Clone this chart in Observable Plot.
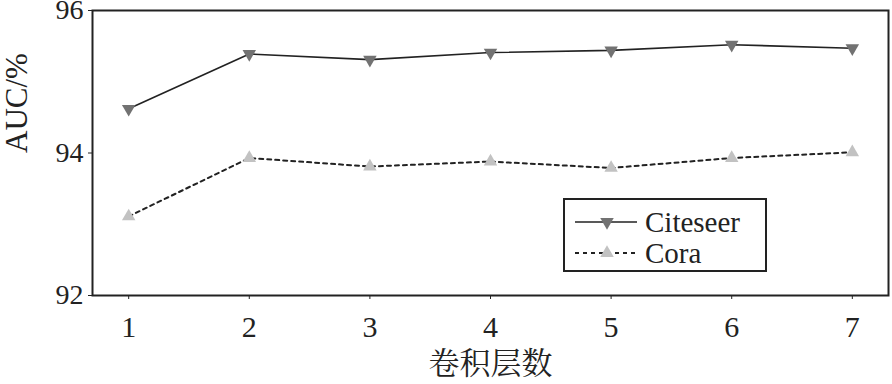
<!DOCTYPE html>
<html><head><meta charset="utf-8">
<script src="https://cdn.jsdelivr.net/npm/d3@7"></script>
<script src="https://cdn.jsdelivr.net/npm/@observablehq/plot@0.6"></script>
<style>
body{margin:0;background:#fff;}
#wrap{position:relative;width:892px;height:384px;}
#legend{position:absolute;left:563px;top:198px;width:204px;height:74px;border:2px solid #222;background:#fff;box-sizing:border-box;}
</style></head><body><div id="wrap"><div id="legend"></div></div>
<script>
const layers = [1, 2, 3, 4, 5, 6, 7];
const citeseer = [94.62, 95.39, 95.31, 95.41, 95.44, 95.52, 95.47];
const cora = [93.11, 93.93, 93.81, 93.88, 93.79, 93.93, 94.01];
const yTicks = [92, 94, 96];
const seriesNames = ["Citeseer", "Cora"];
const xLabel = "卷积层数";
const yLabel = "AUC/%";

const latinFont = "Liberation Serif";
const cjkFont = "Noto Serif CJK SC";
const citeData = layers.map((l, i) => ({layer: l, auc: citeseer[i]}));
const coraData = layers.map((l, i) => ({layer: l, auc: cora[i]}));

const chart = Plot.plot({
  width: 892, height: 384,
  marginLeft: 92, marginRight: 4, marginTop: 10, marginBottom: 89,
  x: {domain: [0.7, 7.3]},
  y: {domain: [92, 96]},
  style: {fontFamily: latinFont, color: "#222", background: "#fff", overflow: "visible"},
  marks: [
    Plot.axisY({ticks: yTicks, tickSize: 4, tickPadding: 5, fontSize: 28, fontFamily: latinFont, label: null, tickFormat: d => String(d)}),
    Plot.axisX({ticks: layers, tickSize: 4, tickPadding: 16, fontSize: 30, fontFamily: latinFont, label: null, tickFormat: d => String(d)}),
    Plot.line(citeData, {x: "layer", y: "auc", stroke: "#222", strokeWidth: 1.6}),
    Plot.line(coraData, {x: "layer", y: "auc", stroke: "#222", strokeWidth: 2, strokeDasharray: "4,4"}),
    Plot.dot(citeData, {x: "layer", y: "auc", symbol: "triangle", rotate: 180, r: 5, fill: "#727272", stroke: "none"}),
    Plot.dot(coraData, {x: "layer", y: "auc", symbol: "triangle", r: 5, fill: "#c2c2c2", stroke: "none"}),
    Plot.frame({stroke: "#222", strokeWidth: 2}),
    Plot.text([yLabel], {text: d => d, frameAnchor: "left", rotate: -90, dx: -75, fontSize: 31, fontFamily: latinFont, fill: "#222"}),
    Plot.text([xLabel], {text: d => d, frameAnchor: "bottom", dy: 78, fontSize: 31, fill: "#222", fontFamily: cjkFont})
  ]
});
document.getElementById("wrap").prepend(chart);

// legend
const styles = [
  {name: seriesNames[0], dash: null, sw: 1.6, fill: "#727272", rot: 180},
  {name: seriesNames[1], dash: "4,4", sw: 2, fill: "#c2c2c2", rot: 0}
];
const lsvg = d3.select("#legend").append("svg").attr("width", 200).attr("height", 70).style("display", "block");
const tri = d3.symbol(d3.symbolTriangle, Math.PI * 25);
styles.forEach((s, i) => {
  const cy = 22 + i * 31;
  lsvg.append("line").attr("x1", 10).attr("x2", 72).attr("y1", cy).attr("y2", cy)
    .attr("stroke", "#222").attr("stroke-width", s.sw).attr("stroke-dasharray", s.dash);
  lsvg.append("path").attr("d", tri()).attr("fill", s.fill)
    .attr("transform", `translate(42,${cy}) rotate(${s.rot})`);
  lsvg.append("text").attr("x", 80).attr("y", cy).attr("dy", "0.35em")
    .attr("font-family", latinFont).attr("font-size", 29).attr("fill", "#222").text(s.name);
});
</script></body></html>
